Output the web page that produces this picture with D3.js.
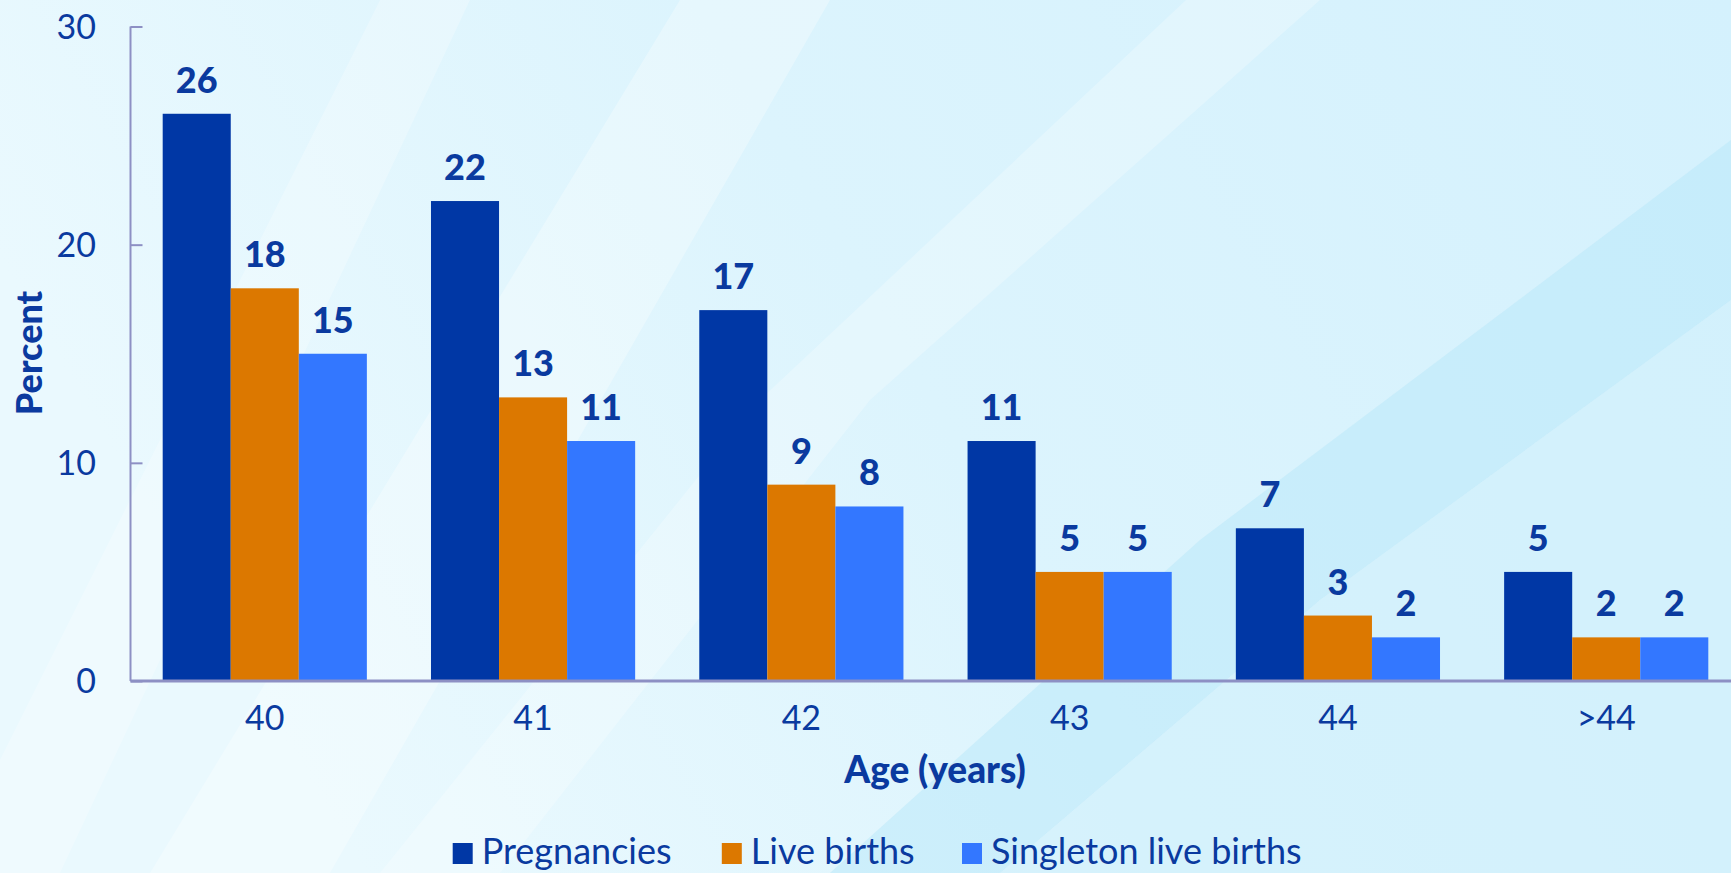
<!DOCTYPE html>
<html>
<head>
<meta charset="utf-8">
<script src="https://cdn.jsdelivr.net/npm/d3@7"></script>
<style>
  html, body { margin: 0; padding: 0; overflow: hidden; }
  svg { display: block; }
</style>
</head>
<body>
<div id="chart"></div>
<script>
// data
var ages = ["40", "41", "42", "43", "44", ">44"];
var seriesNames = ["Pregnancies", "Live births", "Singleton live births"];
var pregnancies = [26, 22, 17, 11, 7, 5];
var liveBirths = [18, 13, 9, 5, 3, 2];
var singletonBirths = [15, 11, 8, 5, 2, 2];
var yTicks = [0, 10, 20, 30];

var seriesColors = ["#0037a5", "#dc7800", "#3377ff"];
var textColor = "#0a3a9f";
var axisColor = "#8d90c4";
var fontFamily = "Lato, 'Open Sans', sans-serif";

var width = 1731,
    height = 873;

var rows = ages.map(function(a, i) {
  return { age: a, values: [pregnancies[i], liveBirths[i], singletonBirths[i]] };
});

var svg = d3.select("#chart")
  .append("svg")
    .attr("width", width)
    .attr("height", height)
    .style("font-family", fontFamily);

drawBackground();

var y = d3.scaleLinear()
  .domain([0, 30])
  .range([681, 26.5]);

var x0 = d3.scaleBand()
  .domain(ages)
  .range([130.5, 1740.5])
  .paddingInner(0.239)
  .paddingOuter(0.12);

var x1 = d3.scaleBand()
  .domain(d3.range(seriesNames.length))
  .range([0, x0.bandwidth()]);

// bars
var groups = svg.selectAll(".group")
  .data(rows)
  .enter()
    .append("g")
    .attr("class", "group")
    .attr("transform", function(d) { return "translate(" + x0(d.age) + ",0)"; });

groups.selectAll("rect")
  .data(function(d) { return d.values; })
  .enter()
    .append("rect")
    .attr("x", function(d, i) { return x1(i); })
    .attr("y", function(d) { return y(d); })
    .attr("width", x1.bandwidth())
    .attr("height", function(d) { return y(0) - y(d); })
    .attr("fill", function(d, i) { return seriesColors[i]; });

groups.selectAll(".val")
  .data(function(d) { return d.values; })
  .enter()
    .append("text")
    .attr("class", "val")
    .attr("x", function(d, i) { return x1(i) + x1.bandwidth() / 2; })
    .attr("y", function(d) { return y(d) - 21; })
    .attr("text-anchor", "middle")
    .attr("font-size", 36)
    .attr("font-weight", 900)
    .attr("fill", textColor)
    .text(function(d) { return d; });

// y axis
var yAxis = svg.append("g")
  .attr("transform", "translate(130.5,0)")
  .call(d3.axisRight(y).tickValues(yTicks).tickSize(12).tickFormat(""));
yAxis.select(".domain").attr("stroke", axisColor).attr("stroke-width", 2)
  .attr("d", "M0," + y(30) + "V" + y(0));
yAxis.selectAll(".tick line").attr("stroke", axisColor).attr("stroke-width", 2);

svg.append("g").selectAll("text")
  .data(yTicks)
  .enter()
    .append("text")
    .attr("x", 96)
    .attr("y", function(d) { return y(d); })
    .attr("dy", "0.36em")
    .attr("text-anchor", "end")
    .attr("font-size", 34)
    .attr("fill", textColor)
    .text(function(d) { return d; });

// x axis
var xAxis = svg.append("g")
  .attr("transform", "translate(0," + y(0) + ")")
  .call(d3.axisBottom(x0).tickSize(0).tickPadding(0));
xAxis.select(".domain").attr("stroke", axisColor).attr("stroke-width", 3)
  .attr("d", "M130.5,0H1740.5");
xAxis.selectAll(".tick text")
  .attr("y", 49)
  .attr("dy", 0)
  .attr("font-size", 34)
  .attr("font-family", fontFamily)
  .attr("fill", textColor);

// axis titles
svg.append("text")
  .attr("x", 935)
  .attr("y", 783)
  .attr("text-anchor", "middle")
  .attr("font-size", 37)
  .attr("font-weight", 900)
  .attr("fill", textColor)
  .text("Age (years)");

svg.append("text")
  .attr("transform", "translate(41.5,353) rotate(-90)")
  .attr("text-anchor", "middle")
  .attr("font-size", 36)
  .attr("font-weight", 900)
  .attr("fill", textColor)
  .text("Percent");

// legend
var legendX = [452.7, 721.8, 962];
var legend = svg.append("g").selectAll("g")
  .data(seriesNames)
  .enter()
    .append("g")
    .attr("transform", function(d, i) { return "translate(" + legendX[i] + ",843)"; });
legend.append("rect")
  .attr("width", 20)
  .attr("height", 21)
  .attr("fill", function(d, i) { return seriesColors[i]; });
legend.append("text")
  .attr("x", 29)
  .attr("y", 21)
  .attr("font-size", 36)
  .attr("fill", textColor)
  .text(function(d) { return d; });

function drawBackground() {
  var defs = svg.append("defs");
  var grad = defs.append("linearGradient")
    .attr("id", "bg")
    .attr("x1", "0").attr("y1", "0.3")
    .attr("x2", "1").attr("y2", "0");
  grad.append("stop").attr("offset", "0").attr("stop-color", "#eaf9fe");
  grad.append("stop").attr("offset", "0.45").attr("stop-color", "#dcf4fd");
  grad.append("stop").attr("offset", "1").attr("stop-color", "#d4f1fd");

  svg.append("rect")
    .attr("width", width)
    .attr("height", height)
    .attr("fill", "url(#bg)");

  // soft diagonal streaks
  var streaks = [
    { d: "M380,0 L470,0 L60,873 L0,873 L0,760 Z", fill: "#ffffff", op: 0.25 },
    { d: "M680,0 L830,0 L330,873 L150,873 Z", fill: "#ffffff", op: 0.3 },
    { d: "M1186,0 L1320,0 L870,400 L500,873 L380,873 L760,400 Z", fill: "#ffffff", op: 0.25 },
    { d: "M1731,140 L1731,300 L1320,600 L1000,873 L830,873 L1200,540 Z", fill: "#b8e8fa", op: 0.5 },
    { d: "M1731,300 L1731,873 L1000,873 L1320,600 Z", fill: "#d0f0fc", op: 0.6 }
  ];
  svg.append("g").selectAll("path")
    .data(streaks)
    .enter()
      .append("path")
      .attr("d", function(d) { return d.d; })
      .attr("fill", function(d) { return d.fill; })
      .attr("opacity", function(d) { return d.op; });
}
</script>
</body>
</html>
